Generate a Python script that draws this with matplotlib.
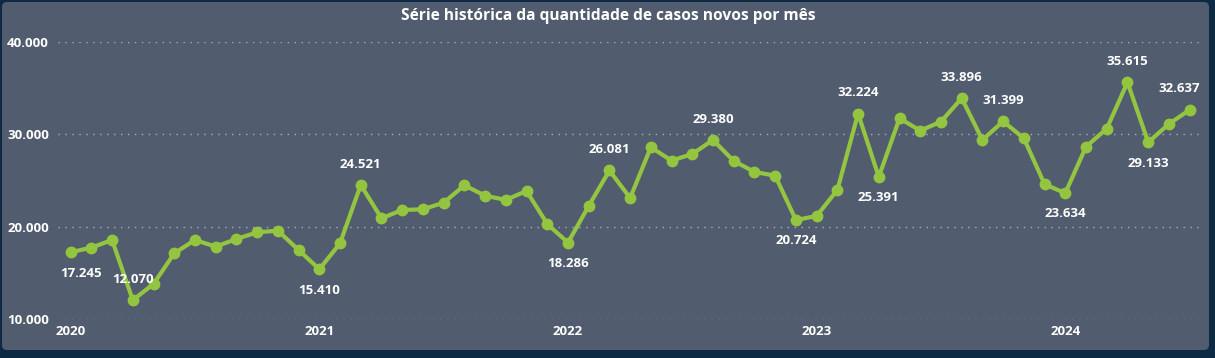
import matplotlib
matplotlib.use("Agg")
import matplotlib.pyplot as plt
from matplotlib.patches import FancyBboxPatch

# casos novos por mês, jan/2020 a jul/2024
casos = [
    17245, 17750, 18570, 12070, 13820, 17130, 18570, 17850, 18680, 19400, 19580, 17490,
    15410, 18210, 24521, 20915, 21815, 21890, 22600, 24480, 23360, 22900, 23870, 20300,
    18286, 22250, 26081, 23110, 28590, 27150, 27870, 29380, 27110, 25920, 25520, 20724,
    21170, 23980, 32224, 25391, 31720, 30390, 31360, 33896, 29380, 31399, 29560, 24590,
    23634, 28660, 30600, 35615, 29133, 31110, 32637,
]
anos = ["2020", "2021", "2022", "2023", "2024"]
y_ticks = [10000, 20000, 30000, 40000]

# pontos com rótulo: índice -> acima (1) ou abaixo (-1)
rotulos = {0: -1, 3: 1, 12: -1, 14: 1, 24: -1, 26: 1, 31: 1, 35: -1,
           38: 1, 39: -1, 43: 1, 45: 1, 48: -1, 51: 1, 52: -1, 54: 1}

FUNDO = "#0c2a44"
PAINEL = "#515c6e"
VERDE = "#94c540"
FONTE = ["Open Sans", "DejaVu Sans"]


def fmt(v):
    return f"{v:,}".replace(",", ".")


def main():
    W, H = 1215, 358
    fig = plt.figure(figsize=(W / 100, H / 100), dpi=100, facecolor=FUNDO)

    # fundo do painel, em pixels
    bg = fig.add_axes([0, 0, 1, 1], zorder=0)
    bg.set_xlim(0, W)
    bg.set_ylim(H, 0)
    bg.axis("off")
    bg.add_patch(FancyBboxPatch((2, 2), 1207, 348,
                                boxstyle="round,pad=0,rounding_size=5",
                                facecolor=PAINEL, edgecolor="none"))

    left, right = 58 / W, 1200 / W
    top, bottom = 1 - 41.7 / H, 1 - 319.3 / H
    ax = fig.add_axes([left, bottom, right - left, top - bottom], zorder=1)
    ax.set_facecolor("none")

    x = list(range(len(casos)))
    ax.plot(x, casos, color=VERDE, linewidth=3, marker="o", markersize=7.5,
            clip_on=False, zorder=3)

    ultimo = len(casos) - 1
    for i, lado in rotulos.items():
        # rótulos das pontas ficam dentro da área do gráfico
        if i == 0:
            ha, dx = "left", -7.2
        elif i == ultimo:
            ha, dx = "right", 7.4
        else:
            ha, dx = "center", 0
        ax.annotate(fmt(casos[i]), (i, casos[i]), xytext=(dx, 15 * lado),
                    textcoords="offset points", ha=ha, va="center",
                    color="white", fontsize=9.5, fontweight="bold",
                    family=FONTE, zorder=4)

    ax.set_xlim(-0.61, 54.5)
    ax.set_ylim(10000, 40000)
    ax.set_yticks(y_ticks)
    ax.set_yticklabels([fmt(v) for v in y_ticks])
    ax.set_xticks([0, 12, 24, 36, 48])
    ax.set_xticklabels(anos)
    ax.tick_params(length=0, colors="white", labelsize=9.5)
    ax.tick_params(axis="y", pad=6.5)
    ax.tick_params(axis="x", pad=4)
    for lab in ax.get_xticklabels() + ax.get_yticklabels():
        lab.set_fontweight("bold")
        lab.set_family(FONTE)

    ax.grid(axis="y", color="#a7afba", linestyle=(0, (1, 4)), linewidth=1)
    ax.set_axisbelow(True)
    for s in ax.spines.values():
        s.set_visible(False)

    fig.text(608 / W, 1 - 16 / H, "Série histórica da quantidade de casos novos por mês",
             ha="center", va="center", color="white", fontsize=11.2,
             fontweight="bold", family=FONTE)

    fig.savefig("out.png", dpi=100, facecolor=FUNDO)


if __name__ == "__main__":
    main()
